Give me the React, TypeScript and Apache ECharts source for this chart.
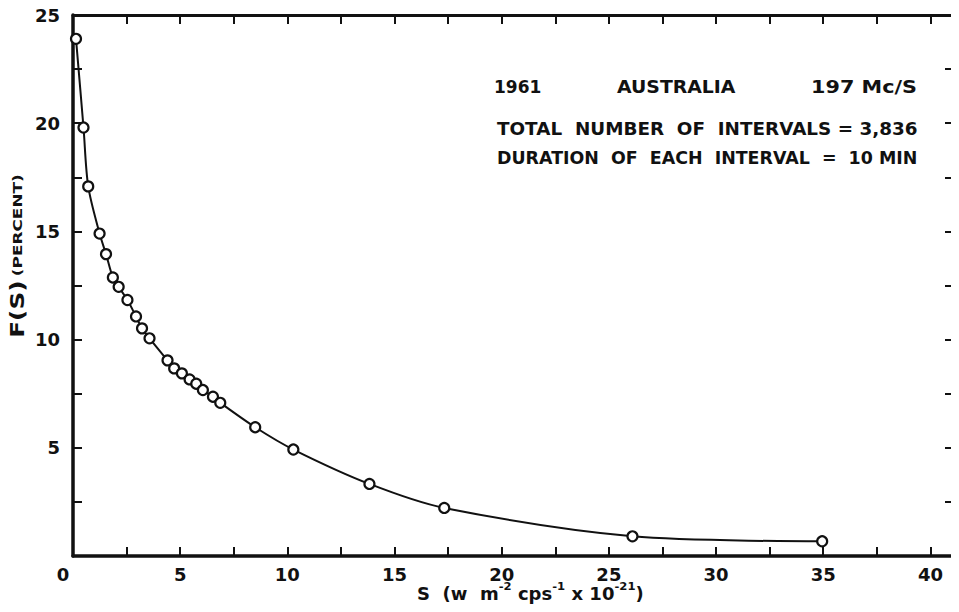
import { useEffect, useRef } from 'react';
import * as echarts from 'echarts';

// Flux density S (w m^-2 cps^-1 x 10^-21) and cumulative frequency F(S) in percent
const sValues = [
  0.14, 0.49, 0.71, 1.24, 1.54, 1.86, 2.13, 2.54, 2.94, 3.22, 3.57, 4.41, 4.72,
  5.08, 5.44, 5.75, 6.06, 6.53, 6.87, 8.5, 10.28, 13.83, 17.32, 26.1, 34.95,
];
const fValues = [
  23.9, 19.8, 17.08, 14.9, 13.95, 12.87, 12.44, 11.83, 11.07, 10.52, 10.06, 9.04,
  8.67, 8.44, 8.16, 7.96, 7.67, 7.36, 7.08, 5.95, 4.92, 3.33, 2.22, 0.91, 0.68,
];
const xTickLabels = [0, 5, 10, 15, 20, 25, 30, 35, 40];
const yTickLabels = [5, 10, 15, 20, 25];

const headerLine1 = ['1961', 'AUSTRALIA', '197 Mc/S'];
const headerLine2 = 'TOTAL  NUMBER  OF  INTERVALS = 3,836';
const headerLine3 = 'DURATION  OF  EACH  INTERVAL  =  10 MIN';

const FONT = '"DejaVu Sans", "Liberation Sans", sans-serif';
const INK = '#111';

export default function App() {
  const ref = useRef<HTMLDivElement>(null);

  useEffect(() => {
    if (!ref.current) return;
    const chart = echarts.init(ref.current, undefined, { renderer: 'svg' });

    const points = sValues.map((s, i) => [s, fValues[i]]);

    const tickStyle = { show: true, inside: true, length: 9, lineStyle: { color: INK, width: 2 } };

    const xBase = {
      type: 'value' as const,
      min: 0,
      max: 41.1,
      interval: 2.5,
      splitLine: { show: false },
      axisTick: tickStyle,
    };
    const yBase = {
      type: 'value' as const,
      min: 0,
      max: 25,
      interval: 2.5,
      splitLine: { show: false },
      axisTick: tickStyle,
    };

    const headerText = (
      text: string,
      x: number,
      y: number,
      scaleX: number,
      align: 'left' | 'right' = 'left',
    ) => ({
      type: 'text',
      x,
      y,
      scaleX,
      style: {
        text,
        font: `bold 17px ${FONT}`,
        fill: INK,
        align,
        verticalAlign: 'middle',
      },
    });

    chart.setOption({
      animation: false,
      backgroundColor: '#fff',
      grid: { left: 73, right: 5, top: 15, bottom: 56 },
      xAxis: [
        {
          ...xBase,
          position: 'bottom',
          axisLine: { show: true, onZero: false, lineStyle: { color: INK, width: 3.5 } },
          axisLabel: {
            show: true,
            color: INK,
            fontFamily: FONT,
            fontWeight: 'bold',
            fontSize: 18,
            margin: 9,
            showMaxLabel: false,
            formatter: (v: number) => {
              if (!xTickLabels.includes(v)) return '';
              return v === 0 ? '{z|0}' : String(v);
            },
            rich: {
              z: { fontFamily: FONT, fontWeight: 'bold', fontSize: 18, color: INK, padding: [0, 20, 0, 0] },
            },
          },
        },
        {
          ...xBase,
          position: 'top',
          axisLine: { show: true, onZero: false, lineStyle: { color: INK, width: 3 } },
          axisLabel: { show: false },
        },
      ],
      yAxis: [
        {
          ...yBase,
          position: 'left',
          axisLine: { show: true, onZero: false, lineStyle: { color: INK, width: 3.5 } },
          axisLabel: {
            show: true,
            color: INK,
            fontFamily: FONT,
            fontWeight: 'bold',
            fontSize: 18,
            margin: 13,
            formatter: (v: number) => (yTickLabels.includes(v) ? String(v) : ''),
          },
        },
        {
          ...yBase,
          position: 'right',
          axisLine: { show: true, onZero: false, lineStyle: { color: INK, width: 2.5 } },
          axisLabel: { show: false },
        },
      ],
      series: [
        {
          type: 'line',
          data: points,
          smooth: 0.3,
          symbol: 'circle',
          symbolSize: 10,
          showAllSymbol: true,
          lineStyle: { color: INK, width: 2 },
          itemStyle: { color: '#fff', borderColor: INK, borderWidth: 2.2 },
          z: 3,
        },
      ],
      graphic: [
        headerText(headerLine1[0], 494, 87, 1),
        headerText(headerLine1[1], 617, 87, 1.11),
        headerText(headerLine1[2], 917, 87, 1.22, 'right'),
        headerText(headerLine2, 497, 129, 1.08),
        headerText(headerLine3, 497, 158, 1.025),
        {
          type: 'text',
          x: 18,
          y: 256,
          rotation: Math.PI / 2,
          scaleX: 1.3,
          style: {
            text: '{a|F(S)} {b|(PERCENT)}',
            align: 'center',
            verticalAlign: 'middle',
            fill: INK,
            rich: {
              a: { fontFamily: FONT, fontWeight: 'bold', fontSize: 19, fill: INK },
              b: { fontFamily: FONT, fontWeight: 'bold', fontSize: 13, fill: INK },
            },
          },
        },
        {
          type: 'text',
          x: 417,
          y: 592,
          scaleX: 1.06,
          style: {
            text: '{a|S  (w  m}{s|-2}{a| cps}{s|-1}{a| x 10}{s|-21}{a|)}',
            align: 'left',
            verticalAlign: 'middle',
            fill: INK,
            rich: {
              a: { fontFamily: FONT, fontWeight: 'bold', fontSize: 17, lineHeight: 22, fill: INK, verticalAlign: 'bottom' },
              s: { fontFamily: FONT, fontWeight: 'bold', fontSize: 11, lineHeight: 22, fill: INK, verticalAlign: 'top' },
            },
          },
        },
      ],
    });

    return () => chart.dispose();
  }, []);

  return <div ref={ref} style={{ width: 959, height: 612, margin: -8 }} />;
}
